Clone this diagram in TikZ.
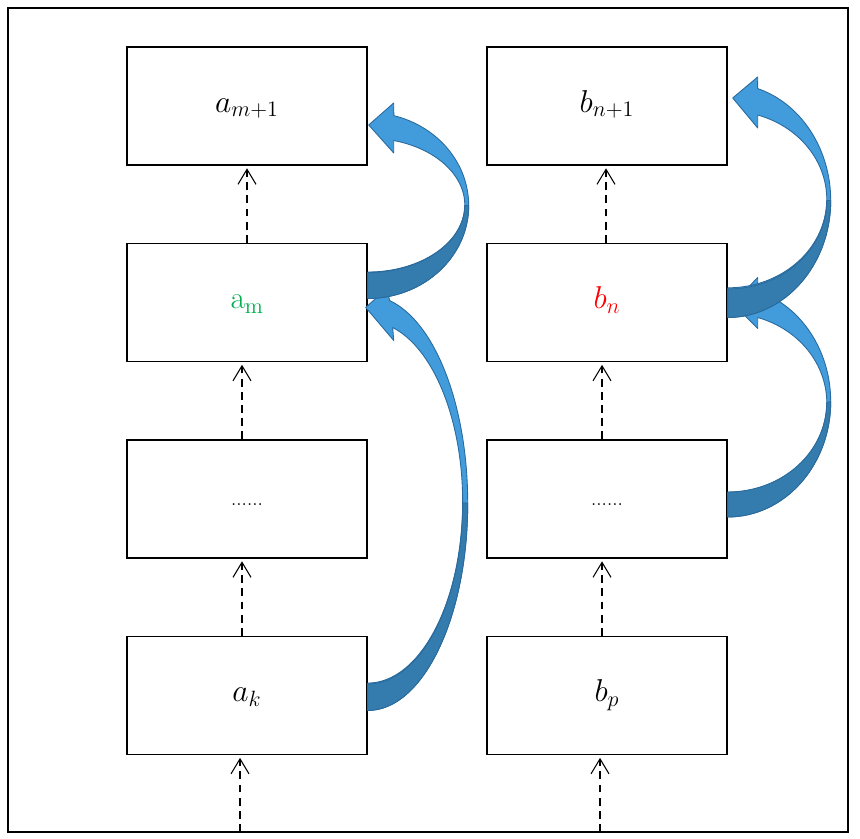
\RequirePackage{fix-cm}
\documentclass[tikz,border=0pt]{standalone}
\usepackage{tikz}
\usetikzlibrary{arrows.meta,calc}
\definecolor{mgreen}{RGB}{0,176,80}
\definecolor{arrowlight}{RGB}{66,156,220}
\definecolor{arrowdark}{RGB}{52,124,174}
\definecolor{arrowline}{RGB}{42,106,156}

\begin{document}
\begin{tikzpicture}[
  cell/.style={rectangle, draw, thick, minimum width=4.8cm, minimum height=2.36cm, font=\fontsize{18}{22}\selectfont, inner sep=0pt, text height=0.95em, text depth=0.25em},
  link/.style={draw, semithick, dash pattern=on 4.5pt off 3pt, -{Straight Barb[length=3mm,width=3.6mm]}, shorten >=1.5pt},
  blockarc/.style={fill=arrowlight, draw=arrowline, line width=0.5pt, line join=round}
]
\useasboundingbox (0,0) rectangle (17.2,16.78);
\draw[thick] (0.16,0.14) rectangle (16.96,16.62);

% left column
\node[cell] (amm) at (4.94,14.66) {$a_{m+1}$};
\node[cell] (am) at (4.94,10.73) {\color{mgreen}$\mathrm{a}_\mathrm{m}$};
\node[cell] (adots) at (4.94,6.80) {\fontsize{11}{13}\selectfont ......};
\node[cell] (ak) at (4.94,2.87) {$a_k$};
% right column
\node[cell] (bnn) at (12.14,14.66) {$b_{n+1}$};
\node[cell] (bn) at (12.14,10.73) {\color{red}$b_n$};
\node[cell] (bdots) at (12.14,6.80) {\fontsize{11}{13}\selectfont ......};
\node[cell] (bp) at (12.14,2.87) {$b_p$};
\coordinate (ain) at (4.80,0.14);
\coordinate (bin) at (12.00,0.14);

% dashed links
\draw[link] (am.north) -- (amm.south);
\draw[link] ([xshift=-0.1cm]adots.north) -- ([xshift=-0.1cm]am.south);
\draw[link] ([xshift=-0.1cm]ak.north) -- ([xshift=-0.1cm]adots.south);
\draw[link] (ain) -- (ain |- ak.south);
\draw[link] ([xshift=-0.02cm]bn.north) -- ([xshift=-0.02cm]bnn.south);
\draw[link] ([xshift=-0.1cm]bdots.north) -- ([xshift=-0.1cm]bn.south);
\draw[link] ([xshift=-0.1cm]bp.north) -- ([xshift=-0.1cm]bdots.south);
\draw[link] (bin) -- (bin |- bp.south);

% curved arrows, a_k -> a_m
\path[blockarc] ($(ak.east)+(0,-0.30)$) arc[start angle=-90, end angle=77.3, x radius=2.00, y radius=4.15]
  -- ($(am.east)+(0.38,0.28)$) -- ($(am.east)+(-0.04,-0.10)$) -- ($(am.east)+(0.52,-0.76)$) -- ($(am.east)+(0.50,-0.50)$)
  arc[start angle=74.7, end angle=-90, x radius=1.90, y radius=3.62] -- cycle;
\path[blockarc, fill=arrowdark] ($(ak.east)+(0,-0.30)$) arc[start angle=-90, end angle=0, x radius=2.00, y radius=4.15]
  -- ++(-0.10,0) arc[start angle=0, end angle=-90, x radius=1.90, y radius=3.62] -- cycle;
% a_m -> a_{m+1}
\path[blockarc] ($(am.east)+(0,0.08)$) arc[start angle=-90, end angle=75, x radius=2.02, y radius=1.86]
  -- ($(amm.east)+(0.52,0.06)$) -- ($(amm.east)+(0.02,-0.38)$) -- ($(amm.east)+(0.52,-0.94)$) -- ($(amm.east)+(0.52,-0.69)$)
  arc[start angle=74.5, end angle=-90, x radius=1.94, y radius=1.34] -- cycle;
\path[blockarc, fill=arrowdark] ($(am.east)+(0,0.08)$) arc[start angle=-90, end angle=0, x radius=2.02, y radius=1.86]
  -- ++(-0.08,0) arc[start angle=0, end angle=-90, x radius=1.94, y radius=1.34] -- cycle;
% ...... -> b_n
\path[blockarc] ($(bdots.east)+(0,-0.36)$) arc[start angle=-90, end angle=73.1, x radius=2.06, y radius=2.31]
  -- ($(bn.east)+(0.60,0.50)$) -- ($(bn.east)+(0.10,-0.02)$) -- ($(bn.east)+(0.60,-0.52)$) -- ($(bn.east)+(0.60,-0.30)$)
  arc[start angle=72.4, end angle=-90, x radius=1.98, y radius=1.79] -- cycle;
\path[blockarc, fill=arrowdark] ($(bdots.east)+(0,-0.36)$) arc[start angle=-90, end angle=0, x radius=2.06, y radius=2.31]
  -- ++(-0.08,-0.02) arc[start angle=0, end angle=-90, x radius=1.98, y radius=1.79] -- cycle;
% b_n -> b_{n+1}
\path[blockarc] ($(bn.east)+(0,-0.30)$) arc[start angle=-90, end angle=73.1, x radius=2.06, y radius=2.34]
  -- ($(bnn.east)+(0.60,0.58)$) -- ($(bnn.east)+(0.10,0.16)$) -- ($(bnn.east)+(0.60,-0.44)$) -- ($(bnn.east)+(0.60,-0.18)$)
  arc[start angle=72.4, end angle=-90, x radius=1.98, y radius=1.77] -- cycle;
\path[blockarc, fill=arrowdark] ($(bn.east)+(0,-0.30)$) arc[start angle=-90, end angle=0, x radius=2.06, y radius=2.34]
  -- ++(-0.08,0) arc[start angle=0, end angle=-90, x radius=1.98, y radius=1.77] -- cycle;
\end{tikzpicture}
\end{document}
